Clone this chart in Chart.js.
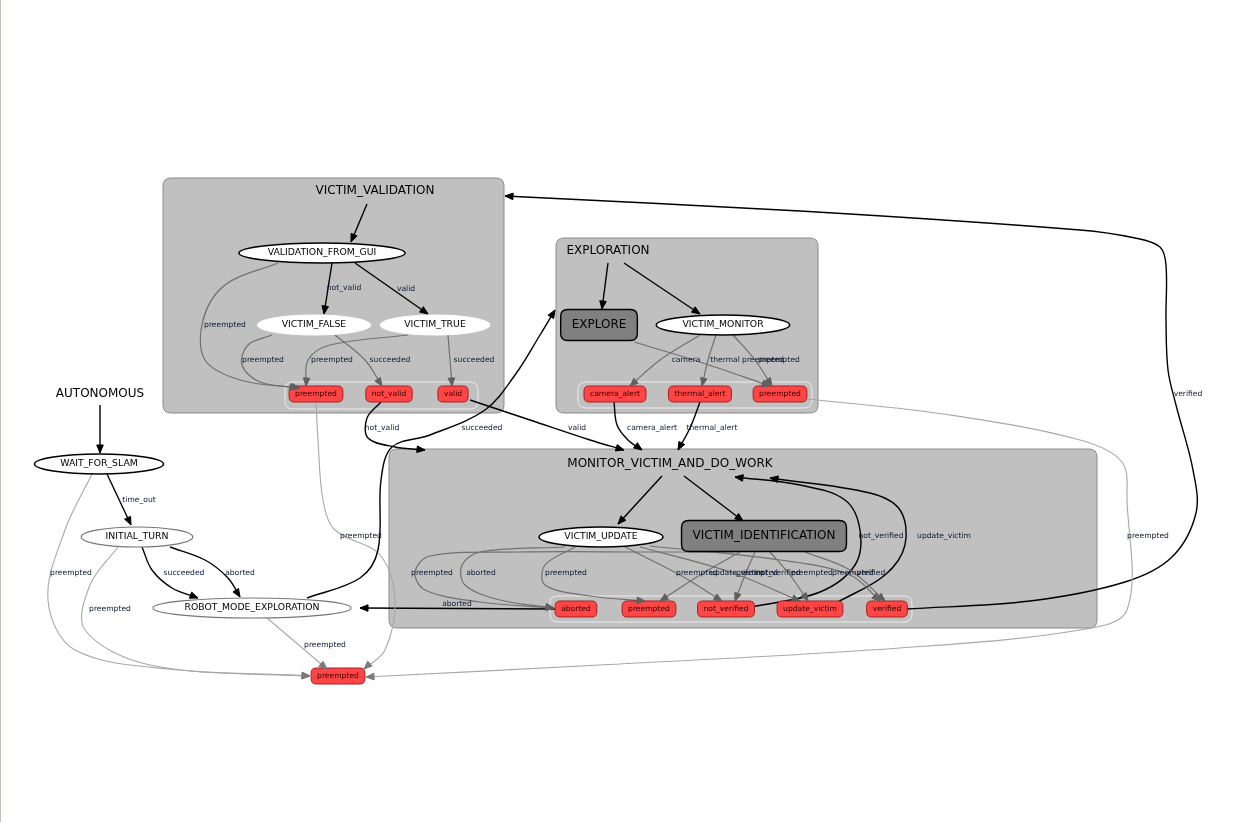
<!DOCTYPE html>
<html>
<head>
<meta charset="utf-8">
<title>AUTONOMOUS state machine</title>
<script src="https://cdn.jsdelivr.net/npm/chart.js@4.4.1/dist/chart.umd.min.js"></script>
<style>
  html, body { margin: 0; padding: 0; background: #fff; }
  #wrap { position: relative; width: 1234px; height: 822px; }
  #rule { position: absolute; left: 0; top: 0; width: 1px; height: 822px; background: #c9beb2; }
</style>
</head>
<body>
<div id="wrap"><canvas id="graph"></canvas><div id="rule"></div></div>
<script>
/* =========================
   DATA
========================= */
const nodeNames = [
  "AUTONOMOUS", "WAIT_FOR_SLAM", "INITIAL_TURN", "ROBOT_MODE_EXPLORATION", "preempted",
  "VALIDATION_FROM_GUI", "VICTIM_FALSE", "VICTIM_TRUE", "preempted", "not_valid", "valid",
  "EXPLORE", "VICTIM_MONITOR", "camera_alert", "thermal_alert", "preempted",
  "VICTIM_UPDATE", "VICTIM_IDENTIFICATION", "aborted", "preempted", "not_verified", "update_victim", "verified"
];
const nodeX = [100, 99, 137, 252, 338, 322, 314, 435, 316, 389, 453, 599, 723, 615, 700, 780, 601, 764, 576, 649, 726, 810, 887];
const nodeY = [394, 464, 537, 608, 676, 253, 325, 325, 394, 394, 394, 325, 325, 394, 394, 394, 537, 536, 609, 609, 609, 609, 609];
// label | active | visited | idle | container | outcome
const nodeKind = [
  "label", "active", "visited", "visited", "outcome",
  "active", "idle", "idle", "outcome", "outcome", "outcome",
  "container", "active", "outcome", "outcome", "outcome",
  "active", "container", "outcome", "outcome", "outcome", "outcome", "outcome"
];

const clusterNames = ["VICTIM_VALIDATION", "EXPLORATION", "MONITOR_VICTIM_AND_DO_WORK"];
const clusterCorners = [[163, 178, 504, 413], [556, 238, 818, 413], [389, 449, 1097, 628]];
const clusterTitleX = [375, 608, 670];
const clusterTitleY = [191, 251, 464];
const outcomeFrames = [[285, 382, 478, 409], [578, 382, 812, 408], [550, 596, 912, 622]];

const edgePaths = [
  [[100, 405], [100, 453]],
  [[107, 474], [131, 525]],
  [[92, 474], [65, 530], [48, 600], [75, 650], [180, 670], [310, 676]],
  [[118, 547], [90, 585], [85, 630], [150, 665], [310, 676]],
  [[142, 547], [152, 570], [172, 588], [198, 598]],
  [[170, 547], [205, 560], [228, 578], [240, 597]],
  [[267, 618], [327, 669]],
  [[307, 598], [360, 578], [378, 550], [381, 480], [392, 447], [430, 435], [485, 410], [515, 375], [540, 335], [555, 310]],
  [[316, 402], [318, 440], [323, 500], [335, 530], [380, 555], [395, 600], [385, 650], [364, 669]],
  [[381, 402], [367, 418], [368, 438], [395, 447], [425, 450]],
  [[470, 400], [530, 420], [590, 440], [624, 450]],
  [[614, 402], [617, 425], [628, 440], [642, 450]],
  [[700, 402], [690, 428], [678, 450]],
  [[808, 399], [950, 415], [1080, 440], [1122, 462], [1127, 500], [1127, 610], [1080, 630], [900, 648], [600, 665], [366, 677]],
  [[906, 609], [1030, 601], [1125, 582], [1172, 557], [1196, 513], [1193, 470], [1176, 405], [1168, 370], [1166, 320], [1166, 265], [1160, 247], [1135, 238], [1080, 230], [800, 211], [505, 196]],
  [[367, 204], [351, 242]],
  [[332, 263], [324, 314]],
  [[355, 263], [428, 314]],
  [[278, 263], [225, 285], [203, 320], [205, 360], [240, 380], [298, 388]],
  [[272, 335], [248, 345], [242, 365], [260, 382], [300, 388]],
  [[335, 335], [365, 360], [382, 386]],
  [[408, 335], [330, 345], [308, 360], [306, 386]],
  [[448, 335], [450, 360], [452, 386]],
  [[608, 263], [602, 309]],
  [[624, 263], [700, 314]],
  [[634, 342], [700, 362], [770, 386]],
  [[700, 335], [660, 360], [630, 386]],
  [[716, 335], [708, 360], [702, 386]],
  [[733, 335], [755, 360], [772, 386]],
  [[662, 476], [618, 524]],
  [[684, 476], [743, 521]],
  [[735, 552], [650, 552], [520, 552], [430, 556], [415, 572], [425, 590], [480, 602], [554, 608]],
  [[565, 547], [480, 552], [462, 565], [465, 585], [500, 600], [554, 608]],
  [[575, 547], [545, 565], [545, 585], [590, 596], [645, 601]],
  [[625, 547], [680, 575], [722, 601]],
  [[640, 547], [730, 572], [800, 601]],
  [[650, 546], [780, 560], [850, 575], [880, 601]],
  [[740, 552], [700, 575], [660, 601]],
  [[755, 552], [745, 575], [735, 601]],
  [[770, 552], [790, 575], [808, 601]],
  [[805, 552], [850, 570], [885, 601]],
  [[752, 607], [820, 592], [855, 565], [860, 530], [845, 500], [800, 485], [735, 477]],
  [[836, 603], [885, 575], [905, 545], [900, 510], [870, 493], [770, 478]],
  [[555, 609], [360, 608]]
];
// on = black, off = grey inside a container, faint = light grey
const edgeTone = [
  "on", "on", "faint", "faint", "on", "on", "faint", "on", "faint", "on", "on", "on", "on", "faint", "on",
  "on", "on", "on", "off", "off", "off", "off", "off",
  "on", "on", "off", "off", "off", "off",
  "on", "on", "off", "off", "off", "off", "off", "off", "off", "off", "off", "off", "on", "on", "on"
];
const edgeLabels = [
  "", "time_out", "preempted", "preempted", "succeeded", "aborted", "preempted", "succeeded", "preempted",
  "not_valid", "valid", "camera_alert", "thermal_alert", "preempted", "verified",
  "", "not_valid", "valid", "preempted", "preempted", "succeeded", "preempted", "succeeded",
  "", "", "preempted", "camera", "thermal", "preempted",
  "", "", "preempted", "aborted", "preempted", "update_victim", "preempted", "preempted",
  "preempted", "not_verified", "preempted", "verified", "not_verified", "update_victim", "aborted"
];
const edgeLabelX = [
  0, 139, 71, 110, 184, 240, 325, 482, 361, 382, 577, 652, 712, 1148, 1188,
  0, 344, 406, 225, 263, 390, 332, 474,
  0, 0, 763, 686, 725, 779,
  0, 0, 432, 481, 566, 737, 757, 853, 697, 778, 812, 871, 881, 944, 457
];
const edgeLabelY = [
  0, 500, 573, 609, 573, 573, 645, 428, 536, 428, 428, 428, 428, 536, 394,
  0, 288, 289, 325, 360, 360, 360, 360,
  0, 0, 360, 360, 360, 360,
  0, 0, 573, 573, 573, 573, 573, 573, 573, 573, 573, 573, 536, 536, 604
];

/* =========================
   STYLE
========================= */
const FONT = "'DejaVu Sans', 'Liberation Sans', sans-serif";
const toneLine = { on: "#000000", off: "#707070", faint: "#a8a8a8" };
const toneHead = { on: "#000000", off: "#606060", faint: "#7a7a7a" };
const toneWidth = { on: 1.4, off: 1.2, faint: 1.1 };

function roundRect(ctx, x0, y0, x1, y1, r) {
  ctx.beginPath();
  ctx.moveTo(x0 + r, y0);
  ctx.lineTo(x1 - r, y0);
  ctx.quadraticCurveTo(x1, y0, x1, y0 + r);
  ctx.lineTo(x1, y1 - r);
  ctx.quadraticCurveTo(x1, y1, x1 - r, y1);
  ctx.lineTo(x0 + r, y1);
  ctx.quadraticCurveTo(x0, y1, x0, y1 - r);
  ctx.lineTo(x0, y0 + r);
  ctx.quadraticCurveTo(x0, y0, x0 + r, y0);
  ctx.closePath();
}

/* =========================
   DIAGRAM PLUGIN
========================= */
const diagram = {
  id: "diagram",
  beforeDatasetsDraw(chart) {
    const { ctx, scales } = chart;
    const px = v => scales.x.getPixelForValue(v);
    const py = v => scales.y.getPixelForValue(v);
    ctx.save();
    clusterCorners.forEach((c, i) => {
      roundRect(ctx, px(c[0]), py(c[1]), px(c[2]), py(c[3]), 8);
      ctx.fillStyle = "#c0c0c0";
      ctx.fill();
      ctx.strokeStyle = "#8a8a8a";
      ctx.lineWidth = 1;
      ctx.stroke();
      ctx.fillStyle = "#000";
      ctx.font = "12px " + FONT;
      ctx.textAlign = "center";
      ctx.textBaseline = "middle";
      ctx.fillText(clusterNames[i], px(clusterTitleX[i]), py(clusterTitleY[i]));
    });
    outcomeFrames.forEach(f => {
      roundRect(ctx, px(f[0]), py(f[1]), px(f[2]), py(f[3]), 8);
      ctx.strokeStyle = "#ececec";
      ctx.lineWidth = 1;
      ctx.stroke();
    });
    ctx.restore();
  },
  afterDatasetsDraw(chart) {
    const { ctx, scales } = chart;
    const px = v => scales.x.getPixelForValue(v);
    const py = v => scales.y.getPixelForValue(v);
    ctx.save();
    ctx.textAlign = "center";
    ctx.textBaseline = "middle";

    // nodes
    const pts = chart.getDatasetMeta(0).data;
    pts.forEach((p, i) => {
      const kind = nodeKind[i];
      const name = nodeNames[i];
      if (kind === "label") {
        ctx.font = "12px " + FONT;
        ctx.fillStyle = "#000";
        ctx.fillText(name, p.x, p.y);
        return;
      }
      if (kind === "outcome") {
        ctx.font = "7.6px " + FONT;
        const w = ctx.measureText(name).width + 12;
        roundRect(ctx, p.x - w / 2, p.y - 8, p.x + w / 2, p.y + 8, 5);
        ctx.fillStyle = "#ff4646";
        ctx.fill();
        ctx.strokeStyle = "#a82020";
        ctx.lineWidth = 1;
        ctx.stroke();
        ctx.fillStyle = "#3a0000";
        ctx.fillText(name, p.x, p.y + 0.5);
        return;
      }
      if (kind === "container") {
        ctx.font = "12px " + FONT;
        const w = ctx.measureText(name).width + 22;
        roundRect(ctx, p.x - w / 2, p.y - 15.5, p.x + w / 2, p.y + 15.5, 7);
        ctx.fillStyle = "#808080";
        ctx.fill();
        ctx.strokeStyle = "#000";
        ctx.lineWidth = 1.4;
        ctx.stroke();
        ctx.fillStyle = "#000";
        ctx.fillText(name, p.x, p.y);
        return;
      }
      ctx.font = "9.3px " + FONT;
      const rx = ctx.measureText(name).width * 0.6 + 18;
      ctx.beginPath();
      ctx.ellipse(p.x, p.y, rx, 10, 0, 0, Math.PI * 2);
      ctx.fillStyle = "#fff";
      ctx.fill();
      if (kind === "active") {
        ctx.strokeStyle = "#000";
        ctx.lineWidth = 1.5;
      } else if (kind === "visited") {
        ctx.strokeStyle = "#777";
        ctx.lineWidth = 1.2;
      } else {
        ctx.strokeStyle = "#fff";
        ctx.lineWidth = 1;
      }
      ctx.stroke();
      ctx.fillStyle = "#000";
      ctx.fillText(name, p.x, p.y);
    });

    // arrowheads
    edgePaths.forEach((path, i) => {
      const data = chart.getDatasetMeta(i + 1).data;
      const end = data[data.length - 1];
      const prev = data[data.length - 2];
      let fx = end.cp1x, fy = end.cp1y;
      if (fx === undefined || (Math.abs(fx - end.x) < 0.5 && Math.abs(fy - end.y) < 0.5)) {
        fx = prev.x; fy = prev.y;
      }
      const a = Math.atan2(end.y - fy, end.x - fx);
      const len = 8, half = 3.3;
      ctx.beginPath();
      ctx.moveTo(end.x, end.y);
      ctx.lineTo(end.x - len * Math.cos(a) + half * Math.sin(a), end.y - len * Math.sin(a) - half * Math.cos(a));
      ctx.lineTo(end.x - len * Math.cos(a) - half * Math.sin(a), end.y - len * Math.sin(a) + half * Math.cos(a));
      ctx.closePath();
      ctx.fillStyle = toneHead[edgeTone[i]];
      ctx.fill();
      ctx.strokeStyle = toneHead[edgeTone[i]];
      ctx.lineWidth = 1;
      ctx.stroke();
    });

    // edge labels
    ctx.font = "7.6px " + FONT;
    ctx.fillStyle = "#0d1a33";
    edgeLabels.forEach((t, i) => {
      if (!t) return;
      ctx.fillText(t, px(edgeLabelX[i]), py(edgeLabelY[i]));
    });
    ctx.restore();
  }
};

/* =========================
   CHART
========================= */
const datasets = [{
  label: "states",
  data: nodeX.map((x, i) => ({ x: x, y: nodeY[i] })),
  pointRadius: 0,
  pointHoverRadius: 0
}];

edgePaths.forEach((path, i) => {
  datasets.push({
    label: edgeLabels[i] || "edge",
    data: path.map(p => ({ x: p[0], y: p[1] })),
    showLine: true,
    tension: 0.35,
    borderColor: toneLine[edgeTone[i]],
    borderWidth: toneWidth[edgeTone[i]],
    pointRadius: 0,
    pointHoverRadius: 0,
    fill: false
  });
});

const canvas = document.getElementById("graph");
canvas.width = 1234;
canvas.height = 822;

new Chart(canvas, {
  type: "scatter",
  data: { datasets: datasets },
  options: {
    responsive: false,
    animation: false,
    events: [],
    layout: { padding: 0 },
    plugins: { legend: { display: false }, tooltip: { enabled: false } },
    scales: {
      x: { type: "linear", min: 0, max: 1234, display: false },
      y: { type: "linear", min: 0, max: 822, reverse: true, display: false }
    }
  },
  plugins: [diagram]
});
</script>
</body>
</html>
